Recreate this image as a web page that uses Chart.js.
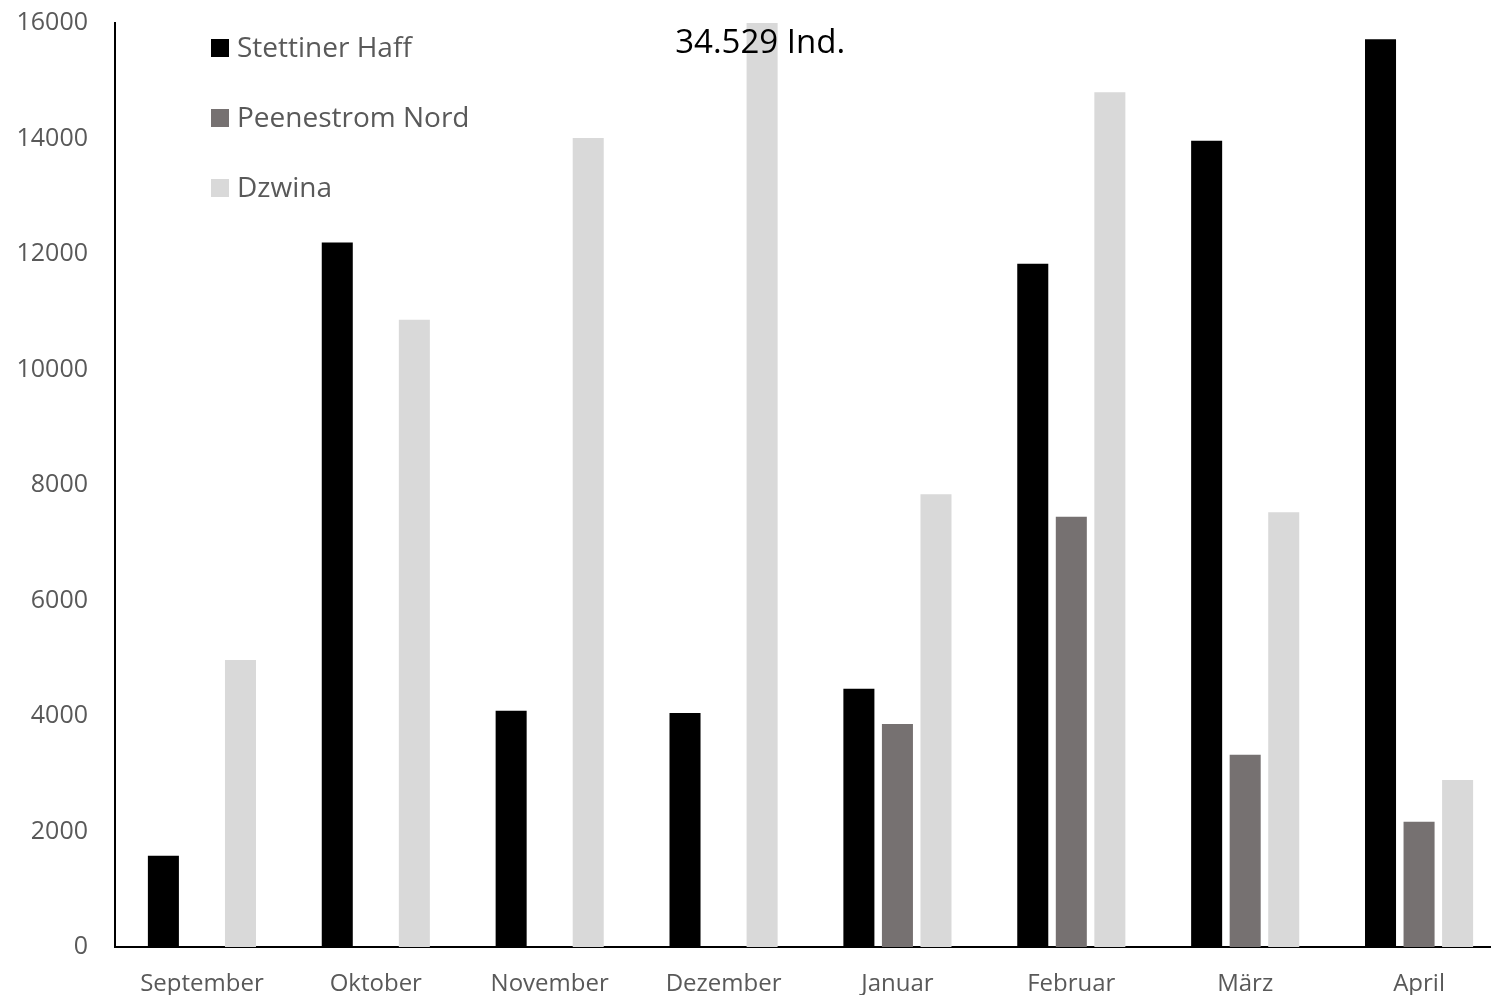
<!DOCTYPE html>
<html>
<head>
<meta charset="utf-8">
<script src="https://cdn.jsdelivr.net/npm/chart.js@4"></script>
<style>
  html, body { margin:0; padding:0; background:#fff; overflow:hidden; }
  #wrap { width:1506px; height:995px; }
</style>
</head>
<body>
<div id="wrap"><canvas id="graf1"></canvas></div>
<script>
const MONATE = ['September','Oktober','November','Dezember','Januar','Februar','März','April'];
const stettinerHaff = [1580, 12200, 4090, 4050, 4470, 11830, 13960, 15720];
const peenestromNord = [0, 0, 0, 0, 3860, 7450, 3330, 2170];
const dzwina = [4970, 10860, 14010, 34529, 7840, 14800, 7530, 2890];
const Y_TICKS = [0, 2000, 4000, 6000, 8000, 10000, 12000, 14000, 16000];
const NOTIZ = '34.529 Ind.';

const COR = { schwarz:'#000000', grau:'#767171', hell:'#D9D9D9', text:'#595959' };
const FONTE = '"Open Sans", "Noto Sans", sans-serif';

// legenda desenhada dentro da area do grafico
const legendaInterna = {
    id:'legendaInterna',
    afterDraw(chart){
        const ctx = chart.ctx;
        const x0 = chart.chartArea.left + 96;
        ctx.save();
        ctx.font = '28px ' + FONTE;
        ctx.textBaseline = 'middle';
        chart.data.datasets.forEach(function(ds, i){
            let y = chart.chartArea.top + 25 + i*70;
            ctx.fillStyle = ds.backgroundColor;
            ctx.fillRect(x0, y-9, 18, 18);
            ctx.fillStyle = COR.text;
            ctx.fillText(ds.label, x0 + 26, y + 1);
        });
        ctx.restore();
    }
};
// anotacao do valor cortado (Dezember, Dzwina)
const notiz = {
    id:'notiz',
    afterDraw(chart){
        const meta = chart.getDatasetMeta(2);
        const bar = meta.data[3];
        const ctx = chart.ctx;
        ctx.save();
        ctx.font = '33px ' + FONTE;
        ctx.fillStyle = '#000';
        ctx.textAlign = 'center';
        ctx.textBaseline = 'middle';
        ctx.fillText(NOTIZ, bar.x - 2, chart.chartArea.top + 21);
        ctx.restore();
    }
};

function grafico(){
    let ctx = document.getElementById('graf1');
    let config = {
        type:'bar',
        data:{
            labels: MONATE,
            datasets:[{
                label:'Stettiner Haff',
                data: stettinerHaff,
                backgroundColor: COR.schwarz
            },{
                label:'Peenestrom Nord',
                data: peenestromNord,
                backgroundColor: COR.grau
            },{
                label:'Dzwina',
                data: dzwina,
                backgroundColor: COR.hell
            }]
        },
        options:{
            responsive:true,
            maintainAspectRatio:false,
            animation:false,
            categoryPercentage:0.665,
            barPercentage:0.805,
            layout:{ padding:{ top:23, right:0, left:0, bottom:0 } },
            scales:{
                x:{
                    grid:{ display:false },
                    border:{ display:true, color:'#000', width:2 },
                    ticks:{ color:COR.text, font:{ family:FONTE, size:24 }, padding:15 },
                    afterFit(scale){ scale.height = 48; }
                },
                y:{
                    min:0, max:16000,
                    afterBuildTicks(scale){ scale.ticks = Y_TICKS.map(v => ({ value:v })); },
                    grid:{ display:false },
                    border:{ display:true, color:'#000', width:2 },
                    ticks:{ color:COR.text, font:{ family:FONTE, size:25 }, padding:19,
                        callback:(v) => String(v) },
                    afterFit(scale){
                        scale.width = 115;
                        scale.paddingTop = 0;
                        scale.paddingBottom = 0;
                    }
                }
            },
            plugins:{
                legend:{ display:false },
                tooltip:{ enabled:false }
            }
        },
        plugins:[legendaInterna, notiz]
    };
    new Chart(ctx, config);
}
grafico();
</script>
</body>
</html>
